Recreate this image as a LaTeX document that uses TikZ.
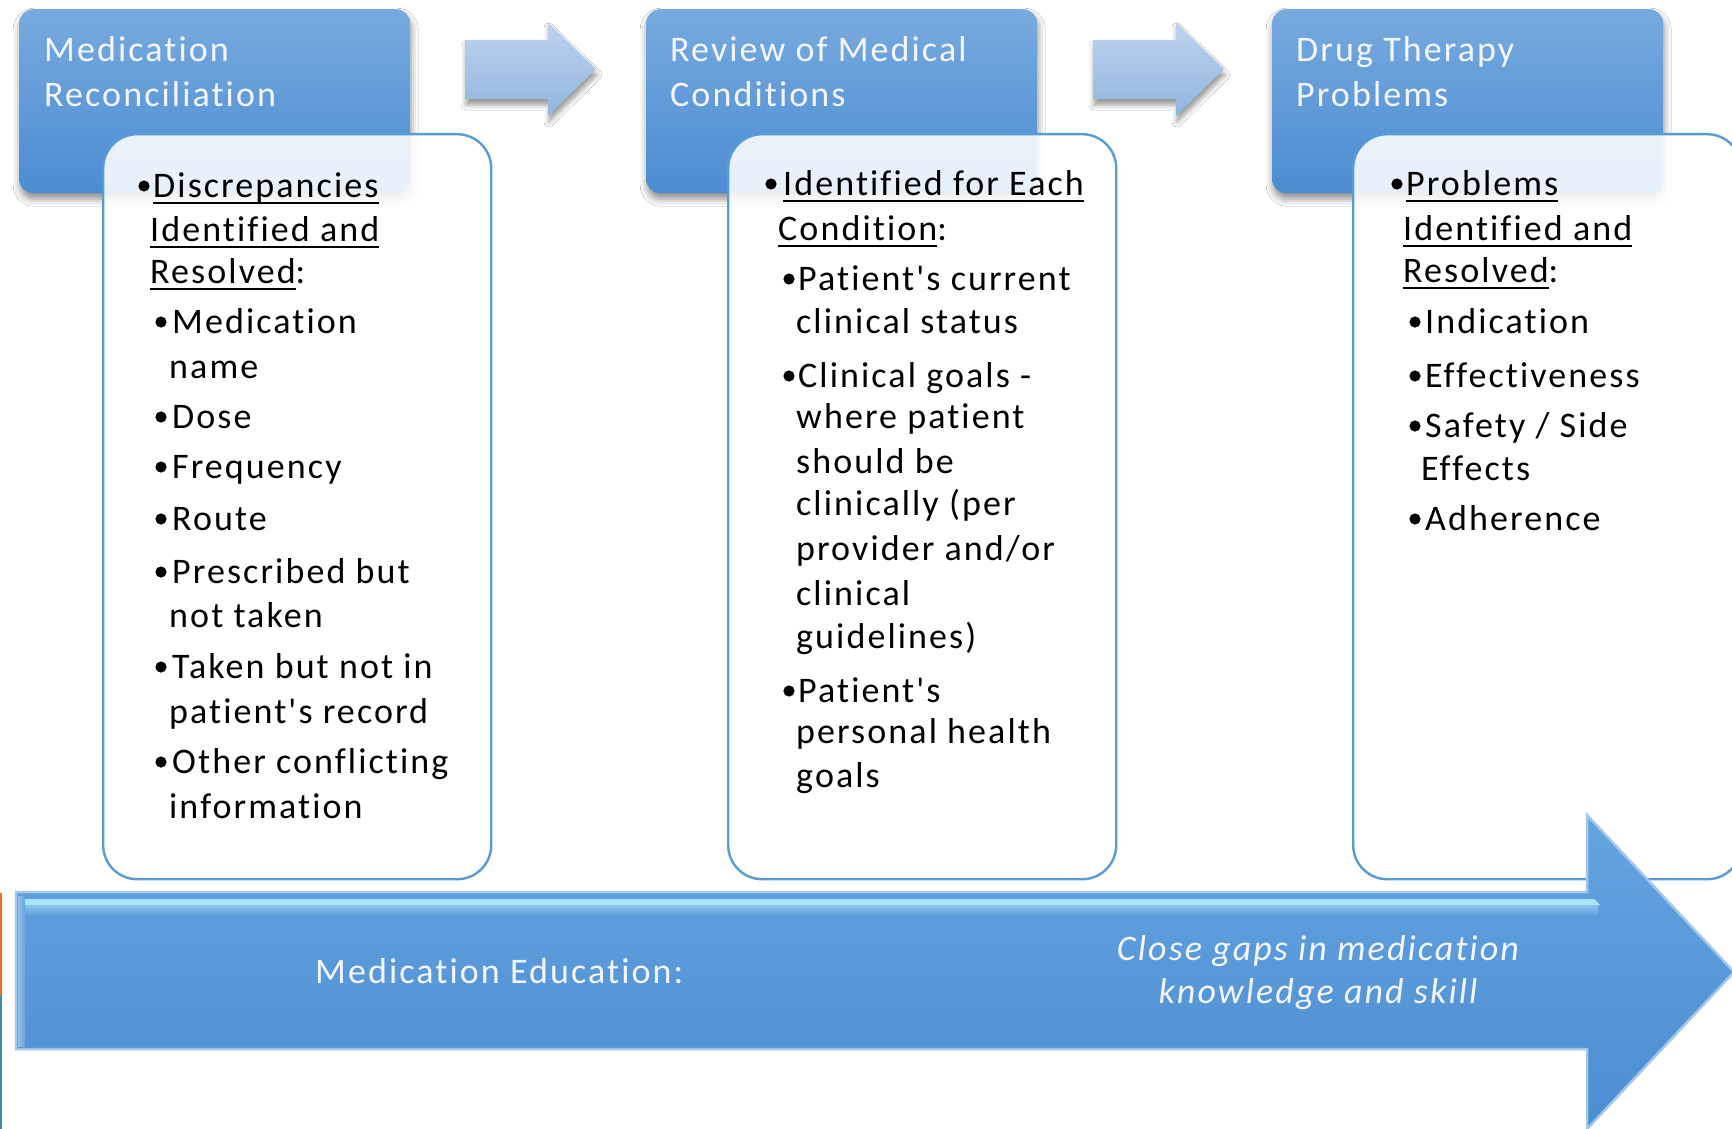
\documentclass[tikz,border=0pt]{standalone}
\usepackage{fontspec}
\newfontfamily\bodyfont{Carlito}[LetterSpace=5.8, RawFeature={-liga}]
\usetikzlibrary{shadows.blur}

\definecolor{hdtop}{HTML}{78AADE}
\definecolor{hdbot}{HTML}{4C8CD2}
\definecolor{boxline}{HTML}{5B9BD5}
\definecolor{chevtop}{HTML}{BED4EF}
\definecolor{chevbot}{HTML}{92B4DF}
\definecolor{bigtop}{HTML}{66A4E0}
\definecolor{bigbot}{HTML}{4C8DD1}
\definecolor{bigedge}{HTML}{A4C7E9}
\definecolor{gloss}{HTML}{B5F0FF}
\definecolor{paletxt}{HTML}{F4F6FF}
\definecolor{edgeorange}{HTML}{E8702A}
\definecolor{edgeteal}{HTML}{3A8FA8}

% underlined word: rule sits a fixed distance below the baseline
\newsavebox\ulbox
\newcommand\ulword[1]{\sbox\ulbox{#1}\rlap{\rule[-7pt]{\wd\ulbox}{2.2pt}}\usebox\ulbox}

% one line of text, anchored at its baseline
\newcommand\bodyline[4]{\node[txt] (#1) at (#2,#3) {#4};}
% list bullet, drawn at x and a baseline y
\newcommand\dotmark[2]{\fill (#1,#2-11) circle (5.6);}

\tikzset{
  txt/.style={inner sep=0pt, anchor=base west, text=black,
    font={\bodyfont\fontsize{36}{43}\selectfont}},
  hdtxt/.style={txt, text=paletxt},
  header/.style={anchor=north west, minimum width=391pt, minimum height=184pt,
    inner sep=0pt, rounded corners=14pt, top color=hdtop, bottom color=hdbot,
    draw=none, blur shadow={shadow xshift=1pt, shadow yshift=-6pt,
      shadow blur radius=7pt, shadow opacity=45}},
  contentbox/.style={anchor=north west, minimum width=388pt, minimum height=745pt,
    inner sep=0pt, rounded corners=34pt, fill=white, fill opacity=0.87,
    draw=boxline, line width=2.4pt},
  chevron/.style={top color=chevtop, bottom color=chevbot,
    blur shadow={shadow xshift=1pt, shadow yshift=-6pt,
      shadow blur radius=5pt, shadow opacity=40}},
}

\begin{document}
\begin{tikzpicture}[x=1pt, y=-1pt]
\useasboundingbox (0,0) rectangle (1732,1129);
\fill[white] (0,0) rectangle (1732,1129);

% step arrows between the headers
\foreach \dx in {0,628}{
  \shade[chevron, xshift=\dx pt] (465,40) -- (548,40) -- (548,22) -- (596,69)
    -- (548,116) -- (548,99) -- (465,99) -- cycle;
}

% step headers
\node[header] (h1) at (19,9) {};
\node[header] (h2) at (646,9) {};
\node[header] (h3) at (1272,9) {};

% detail boxes
\node[contentbox] (c1) at (102,133) {};
\node[contentbox] (c2) at (727,133) {};
\node[contentbox] (c3) at (1352,133) {};

% education arrow along the bottom
\shade[top color=bigtop, bottom color=bigbot, draw=bigedge, line width=2.5pt]
  (16,892) -- (1587,892) -- (1587,815) -- (1734,972) -- (1587,1129)
  -- (1587,1049) -- (16,1049) -- cycle;
\fill[gloss!85!bigtop] (20,899) -- (1594,899) -- (1600,905) -- (20,905) -- cycle;
\shade[top color=bigtop!55!gloss, bottom color=bigtop] (20,905) rectangle (1598,914);
\shade[left color=bigtop!70!white, right color=bigtop] (18,896) rectangle (25,1046);

% stray marks at the left edge
\draw[edgeorange, line width=1.6pt] (0.8,893) -- (0.8,995);
\draw[edgeteal, line width=1.6pt] (0.8,995) -- (0.8,1129);

% header titles
\node[hdtxt] (h1a) at (44,62) {Medication};
\node[hdtxt] (h1b) at (44,107) {Reconciliation};
\node[hdtxt] (h2a) at (670,62) {Review of Medical};
\node[hdtxt] (h2b) at (670,107) {Conditions};
\node[hdtxt] (h3a) at (1296,62) {Drug Therapy};
\node[hdtxt] (h3b) at (1296,107) {Problems};

% box 1
\dotmark{144}{197}
\bodyline{b1a}{153}{197}{\ulword{Discrepancies}}
\bodyline{b1b}{150}{241}{\ulword{Identified and}}
\bodyline{b1c}{150}{283}{\ulword{Resolved}:}
\dotmark{161}{333}\bodyline{b1d}{172}{333}{Medication}
\bodyline{b1e}{169}{378}{name}
\dotmark{161}{428}\bodyline{b1f}{172}{428}{Dose}
\dotmark{161}{478}\bodyline{b1g}{172}{478}{Frequency}
\dotmark{161}{530}\bodyline{b1h}{172}{530}{Route}
\dotmark{161}{583}\bodyline{b1i}{172}{583}{Prescribed but}
\bodyline{b1j}{169}{627}{not taken}
\dotmark{161}{678}\bodyline{b1k}{172}{678}{Taken but not in}
\bodyline{b1l}{169}{723}{patient's record}
\dotmark{161}{773}\bodyline{b1m}{172}{773}{Other conflicting}
\bodyline{b1n}{169}{818}{information}

% box 2
\dotmark{771}{195}
\bodyline{b2a}{783}{195}{\ulword{Identified for Each}}
\bodyline{b2b}{778}{240}{\ulword{Condition}:}
\dotmark{789}{290}\bodyline{b2c}{798}{290}{Patient's current}
\bodyline{b2d}{796}{333}{clinical status}
\dotmark{789}{387}\bodyline{b2e}{798}{387}{Clinical goals -}
\bodyline{b2f}{796}{428}{where patient}
\bodyline{b2g}{796}{473}{should be}
\bodyline{b2h}{796}{515}{clinically (per}
\bodyline{b2i}{796}{560}{provider and/or}
\bodyline{b2j}{796}{605}{clinical}
\bodyline{b2k}{796}{648}{guidelines)}
\dotmark{789}{702}\bodyline{b2l}{798}{702}{Patient's}
\bodyline{b2m}{796}{743}{personal health}
\bodyline{b2n}{796}{787}{goals}

% box 3
\dotmark{1397}{195}
\bodyline{b3a}{1406}{195}{\ulword{Problems}}
\bodyline{b3b}{1403}{240}{\ulword{Identified and}}
\bodyline{b3c}{1403}{282}{\ulword{Resolved}:}
\dotmark{1415}{333}\bodyline{b3d}{1425}{333}{Indication}
\dotmark{1415}{387}\bodyline{b3e}{1425}{387}{Effectiveness}
\dotmark{1415}{437}\bodyline{b3f}{1425}{437}{Safety / Side}
\bodyline{b3g}{1421}{480}{Effects}
\dotmark{1415}{530}\bodyline{b3h}{1425}{530}{Adherence}

% arrow captions
\node[hdtxt] (e1) at (315,983) {Medication Education:};
\node[hdtxt, anchor=base, font={\bodyfont\itshape\fontsize{36}{43}\selectfont}]
  (e2) at (1318,960) {Close gaps in medication};
\node[hdtxt, anchor=base, font={\bodyfont\itshape\fontsize{36}{43}\selectfont}]
  (e3) at (1318,1003) {knowledge and skill};
\end{tikzpicture}
\end{document}
